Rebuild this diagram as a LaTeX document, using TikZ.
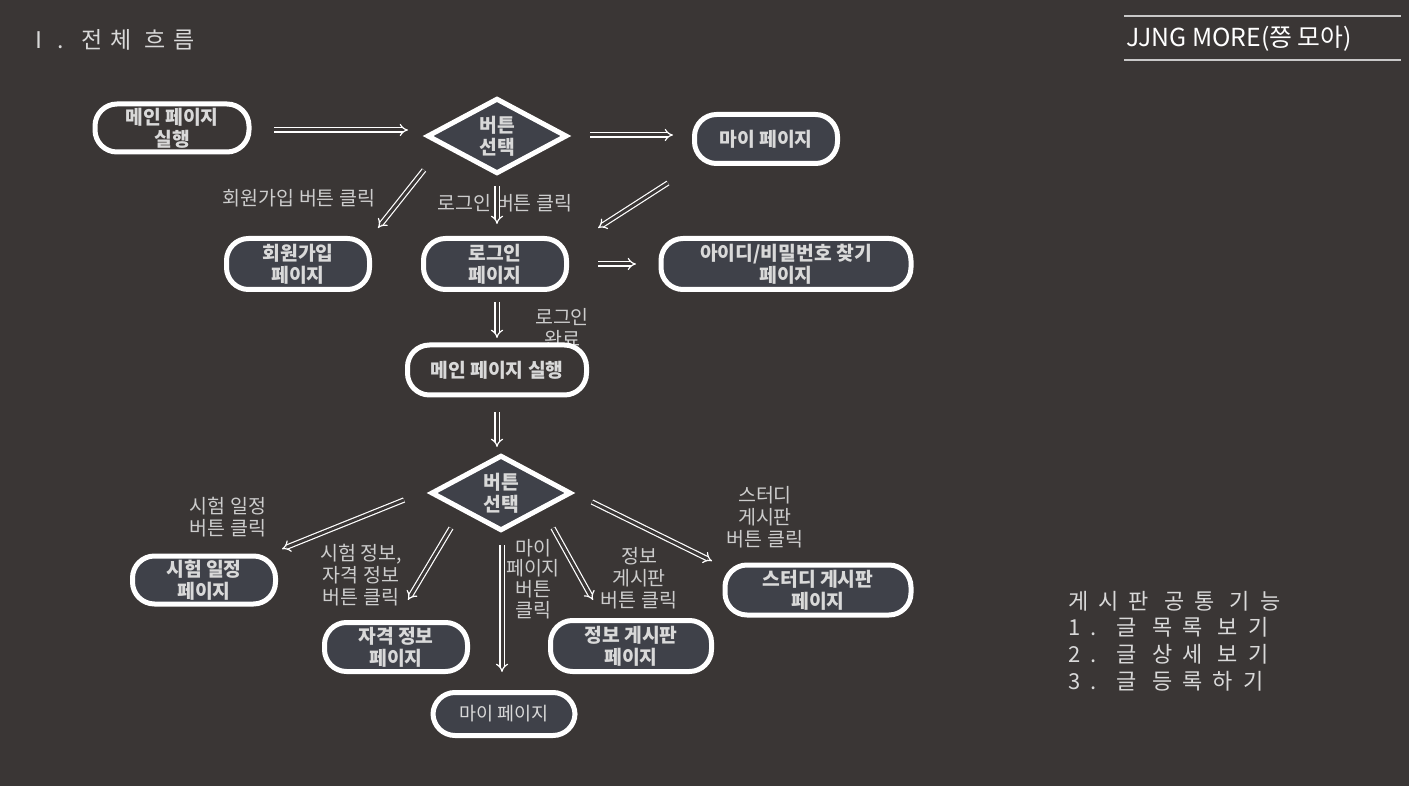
\documentclass[tikz,border=0pt]{standalone}
\usepackage{fontspec}
\setmainfont{Noto Sans CJK KR}
\usetikzlibrary{shapes.geometric,arrows.meta}
\definecolor{bg}{RGB}{58,54,53}
\definecolor{nfill}{RGB}{63,65,73}
\definecolor{txt}{RGB}{217,217,217}
\definecolor{lblc}{RGB}{205,205,205}
\definecolor{rulec}{RGB}{200,200,200}
\newcommand\nfnt{\fontsize{19.3}{22}\selectfont\bfseries}
\newcommand\lfnt{\fontsize{19.5}{22}\selectfont}
\begin{document}
\begin{tikzpicture}[x=1pt,y=-1pt,
  every node/.style={inner sep=0pt},
  pill/.style={draw=white, line width=5pt, rounded corners=22pt, fill=nfill, text=txt, align=center, font=\nfnt},
  pillbg/.style={pill, fill=bg},
  choice/.style={shape=diamond, draw=white, line width=5pt, fill=nfill, text=txt, align=center, font=\nfnt},
  lbl/.style={text=lblc, align=center, font=\lfnt},
  arr/.style={draw=white, line width=1.2pt, double=bg, double distance=3pt, -{Implies}},
]
\fill[bg] (0,0) rectangle (1409,786);
\useasboundingbox (0,0) rectangle (1409,786);

% headers
\node[anchor=west, text=txt, font=\fontsize{23}{26}\selectfont\addfontfeature{LetterSpace=34}] (title) at (27,40) {Ⅰ. 전체 흐름};
\draw[rulec, line width=1.8pt] (1124,16) -- (1401,16);
\draw[rulec, line width=1.8pt] (1124,60) -- (1401,60);
\node[anchor=west, text=white, font=\fontsize{24.8}{28}\selectfont] (brand) at (1126,39) {JJNG MORE(쯩 모아)};
\node[anchor=north west, text=txt, align=left, font=\fontsize{22}{26.6}\selectfont\addfontfeature{LetterSpace=46}] (common) at (1068,591) {게시판 공통 기능\\1. 글 목록 보기\\2. 글 상세 보기\\3. 글 등록하기};

% labels drawn first (some lie under nodes)
\node[lbl] (l1) at (299,198) {회원가입 버튼 클릭};
\node[lbl] (l2) at (505,203) {로그인 버튼 클릭};
\node[lbl] (l3) at (562,328) {로그인\\완료};
\node[lbl] (l4) at (228,517) {시험 일정\\버튼 클릭};
\node[lbl] (l5) at (361,575) {시험 정보,\\자격 정보\\버튼 클릭};
\node[lbl, font=\fontsize{19.5}{20.7}\selectfont] (l6) at (533,579) {마이\\페이지\\버튼\\클릭};
\node[lbl] (l7) at (639,578) {정보\\게시판\\버튼 클릭};
\node[lbl] (l8) at (765,517) {스터디\\게시판\\버튼 클릭};

% nodes
\node[pillbg, minimum width=154pt, minimum height=48pt] (main1) at (172,128) {메인 페이지\\실행};
\node[choice, minimum width=140pt, minimum height=56pt] (dia1) at (497,136) {버튼\\선택};
\node[pill, minimum width=143pt, minimum height=49pt] (my1) at (766,139) {마이 페이지};
\node[pill, minimum width=143pt, minimum height=51pt] (signup) at (298,264) {회원가입\\페이지};
\node[pill, minimum width=143pt, minimum height=51pt] (login) at (495,264) {로그인\\페이지};
\node[pill, minimum width=250pt, minimum height=51pt] (findid) at (786,264) {아이디/비밀번호 찾기\\페이지};
\node[pillbg, minimum width=179pt, minimum height=50pt] (main2) at (497,370) {메인 페이지 실행};
\node[choice, minimum width=140pt, minimum height=50pt] (dia2) at (501,493) {버튼\\선택};
\node[pill, minimum width=143pt, minimum height=48pt] (exam) at (204,580) {시험 일정\\페이지};
\node[pill, minimum width=143pt, minimum height=49pt] (cert) at (396,647) {자격 정보\\페이지};
\node[pill, minimum width=142pt, minimum height=43pt, font=\fontsize{18.5}{22}\selectfont] (my2) at (504,714) {마이 페이지};
\node[pill, minimum width=161pt, minimum height=51pt] (info) at (631,646) {정보 게시판\\페이지};
\node[pill, minimum width=186pt, minimum height=50pt] (study) at (818,590) {스터디 게시판\\페이지};

% connectors
\draw[arr] ([shift={(102,2)}]main1.center) -- ([shift={(-89,-6)}]dia1.center);
\draw[arr] ([shift={(93,-1)}]dia1.center) -- ([shift={(-93,-4)}]my1.center);
\draw[arr] ([shift={(-73,34)}]dia1.center) -- ([shift={(80,-36)}]signup.center);
\draw[arr] ([shift={(0,50)}]dia1.center) -- ([shift={(2,-40)}]login.center);
\draw[arr] ([shift={(-98,44)}]my1.center) -- ([shift={(103,-36)}]login.center);
\draw[arr] ([shift={(103,0)}]login.center) -- ([shift={(-150,0)}]findid.center);
\draw[arr] ([shift={(2,38)}]login.center) -- ([shift={(0,-32)}]main2.center);
\draw[arr] ([shift={(0,42)}]main2.center) -- ([shift={(-4,-46)}]dia2.center);
\draw[arr] ([shift={(-97,7)}]dia2.center) -- ([shift={(78,-31)}]exam.center);
\draw[arr] ([shift={(-50,35)}]dia2.center) -- ([shift={(12,-47)}]cert.center);
\draw[arr] ([shift={(1,52)}]dia2.center) -- ([shift={(-2,-42)}]my2.center);
\draw[arr] ([shift={(52,35)}]dia2.center) -- ([shift={(-38,-46)}]info.center);
\draw[arr] ([shift={(91,9)}]dia2.center) -- ([shift={(-106,-29)}]study.center);
\end{tikzpicture}
\end{document}
